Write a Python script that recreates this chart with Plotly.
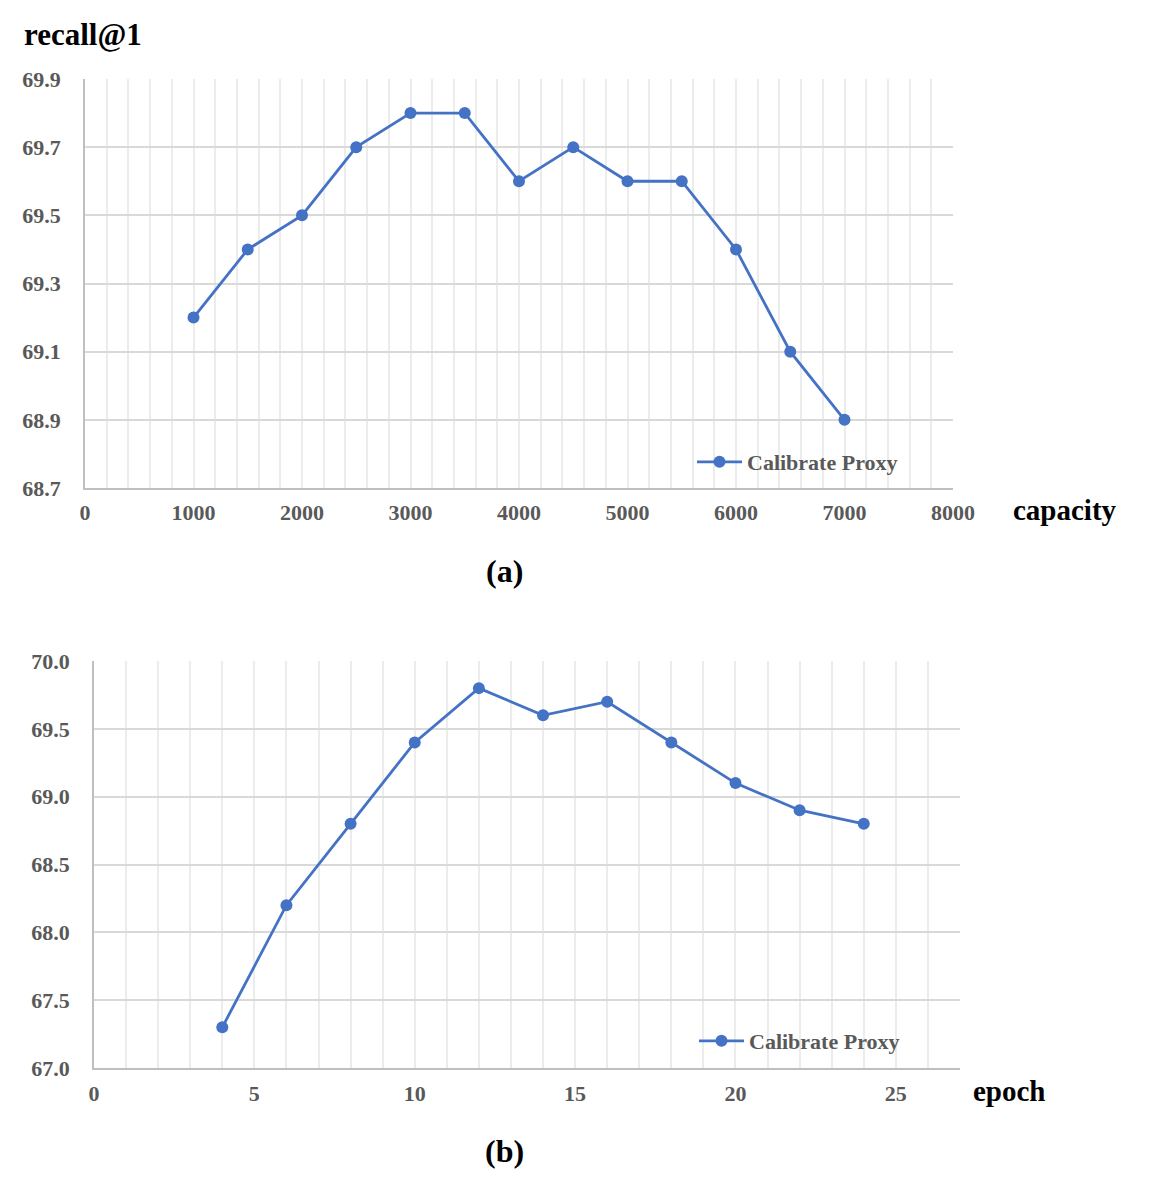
import plotly.graph_objects as go

# Data
capacity = [1000, 1500, 2000, 2500, 3000, 3500, 4000, 4500, 5000, 5500, 6000, 6500, 7000]
recall_capacity = [69.2, 69.4, 69.5, 69.7, 69.8, 69.8, 69.6, 69.7, 69.6, 69.6, 69.4, 69.1, 68.9]
epoch = [4, 6, 8, 10, 12, 14, 16, 18, 20, 22, 24]
recall_epoch = [67.3, 68.2, 68.8, 69.4, 69.8, 69.6, 69.7, 69.4, 69.1, 68.9, 68.8]
series_name = "Calibrate Proxy"

W, H = 1161, 1188
OFF = 8  # page body margin
BLUE = "#4472C4"
SERIF = "Liberation Serif"
TICKFONT = dict(family=SERIF, size=22, color="#595959", weight="bold")

def px_x(p):
    return (p - OFF) / W

def px_y(p):
    return 1 - (p - OFF) / H

fig = go.Figure()
fig.add_trace(go.Scatter(
    x=capacity, y=recall_capacity, mode="lines+markers", name=series_name,
    line=dict(color=BLUE, width=2.8), marker=dict(color=BLUE, size=12),
    xaxis="x", yaxis="y", legend="legend"))
fig.add_trace(go.Scatter(
    x=epoch, y=recall_epoch, mode="lines+markers", name=series_name,
    line=dict(color=BLUE, width=2.8), marker=dict(color=BLUE, size=12),
    xaxis="x2", yaxis="y2", legend="legend2"))

axis_common = dict(showline=True, linecolor="#bfbfbf", linewidth=1.5,
                   tickfont=TICKFONT, zeroline=False, ticks="", automargin=False)

legend_font = dict(family=SERIF, size=22, color="#595959", weight="bold")

fig.update_layout(
    template="none",
    width=W, height=H,
    margin=dict(l=0, r=0, t=0, b=0, pad=0),
    paper_bgcolor="white", plot_bgcolor="white",
    xaxis=dict(domain=[px_x(85), px_x(953)], anchor="y", range=[0, 8000],
               tick0=0, dtick=1000, showgrid=True, gridcolor="#ececec", gridwidth=1.5,
               minor=dict(dtick=200, showgrid=True, gridcolor="#ececec", gridwidth=1.5),
               ticklabelstandoff=4, **axis_common),
    yaxis=dict(domain=[px_y(488), px_y(79)], anchor="x", range=[68.7, 69.9],
               tick0=68.7, dtick=0.2, tickformat=".1f", showgrid=True,
               gridcolor="#d9d9d9", gridwidth=1.5, ticklabelstandoff=18, **axis_common),
    xaxis2=dict(domain=[px_x(94), px_x(960)], anchor="y2", range=[0, 27],
                tick0=0, dtick=5, showgrid=True, gridcolor="#ececec", gridwidth=1.5,
                minor=dict(dtick=1, showgrid=True, gridcolor="#ececec", gridwidth=1.5),
                ticklabelstandoff=5, **axis_common),
    yaxis2=dict(domain=[px_y(1068), px_y(661)], anchor="x2", range=[67.0, 70.0],
                tick0=67, dtick=0.5, tickformat=".1f", showgrid=True,
                gridcolor="#d9d9d9", gridwidth=1.5, ticklabelstandoff=18, **axis_common),
    legend=dict(x=px_x(692), y=px_y(462), xanchor="left", yanchor="middle",
                bgcolor="rgba(0,0,0,0)", borderwidth=0, itemwidth=45, font=legend_font),
    legend2=dict(x=px_x(694), y=px_y(1041), xanchor="left", yanchor="middle",
                 bgcolor="rgba(0,0,0,0)", borderwidth=0, itemwidth=45, font=legend_font),
    showlegend=True,
)

annots = [
    ("recall@1", 22, 35, "left", 31),
    ("capacity", 1011, 510, "left", 29),
    ("epoch", 971, 1091, "left", 29),
    ("(a)", 504, 571, "center", 32),
    ("(b)", 504, 1151, "center", 32),
]
for text, x, y, xa, sz in annots:
    fig.add_annotation(text=text, xref="paper", yref="paper", x=px_x(x), y=px_y(y),
                       xanchor=xa, yanchor="middle", showarrow=False,
                       font=dict(family=SERIF, size=sz, color="black", weight="bold"))

fig.write_html("out.html")
